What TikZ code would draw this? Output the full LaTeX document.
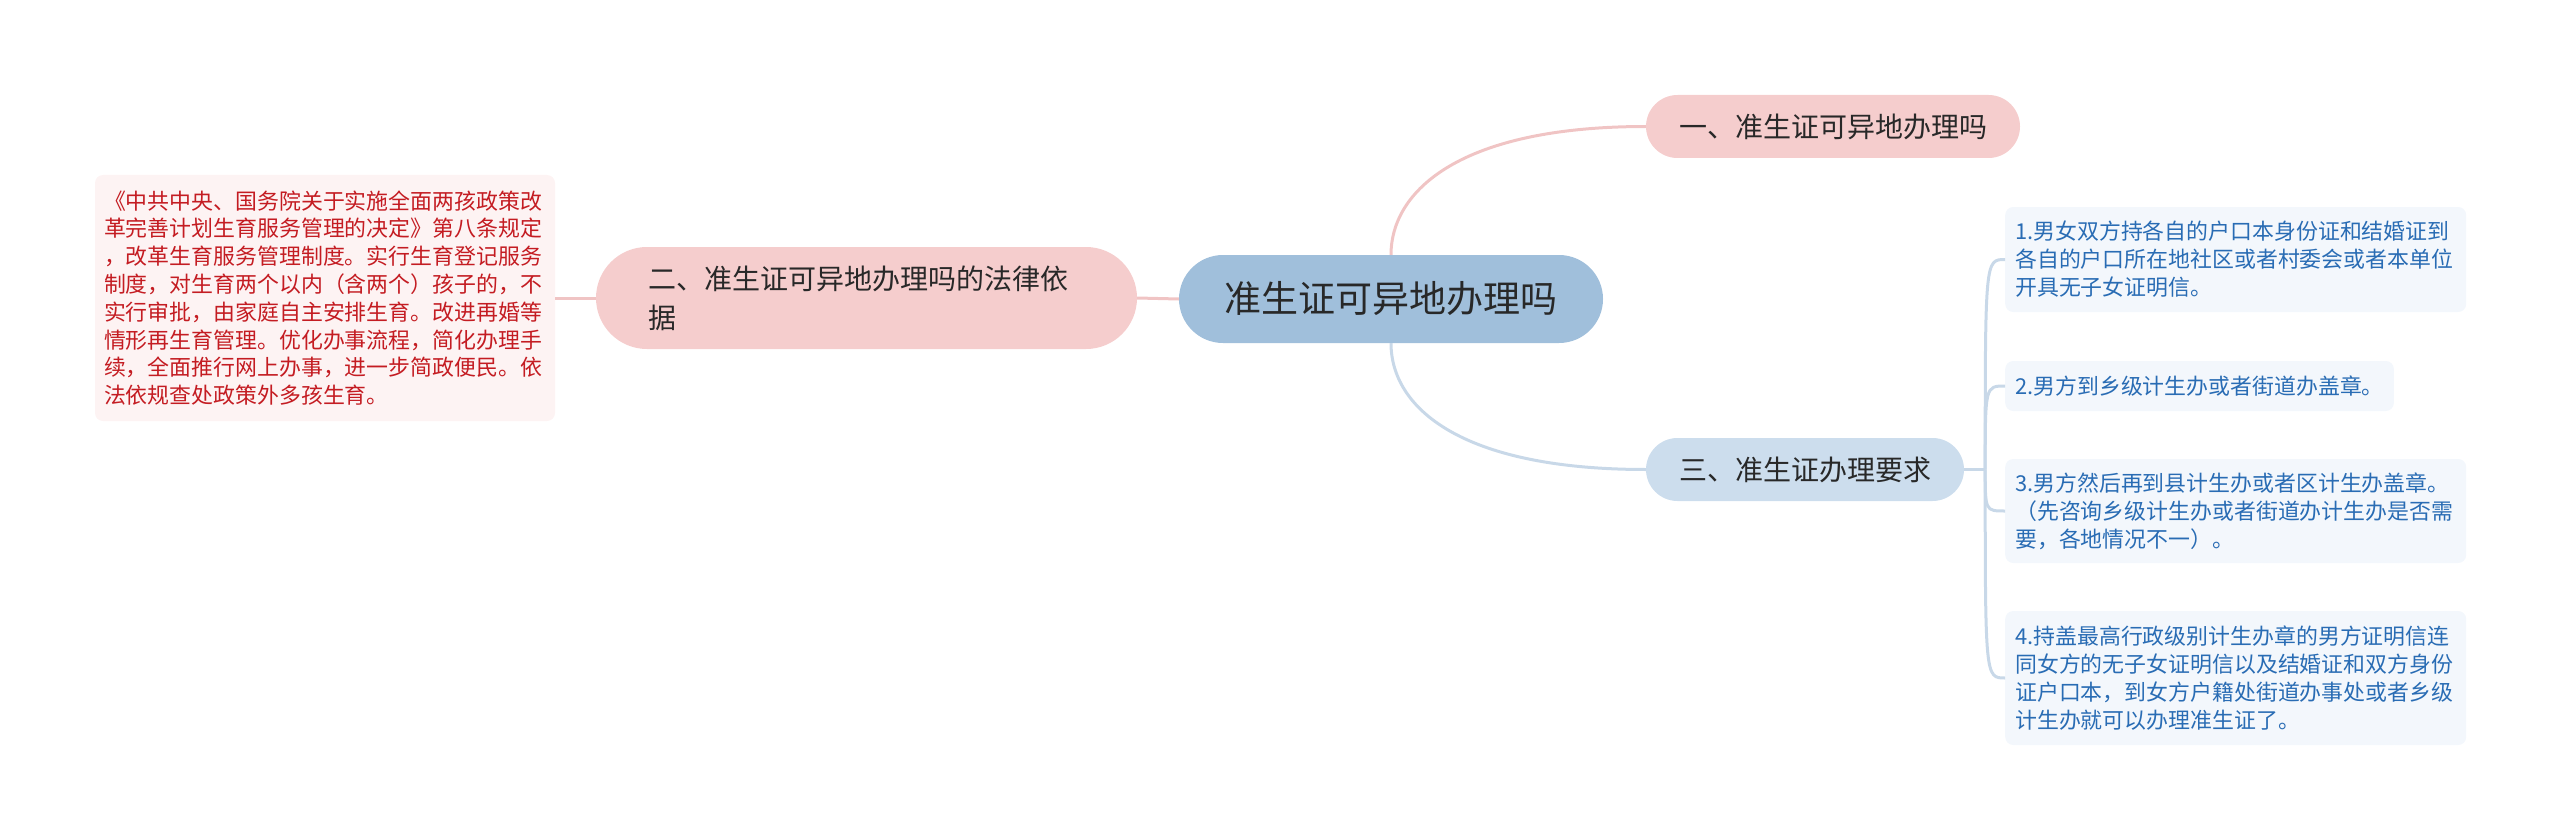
\documentclass[tikz,border=0pt]{standalone}
\usepackage{fontspec}
\setmainfont{Noto Sans CJK SC}
\definecolor{cMain}{RGB}{160,191,219}
\definecolor{cPink}{RGB}{245,205,205}
\definecolor{cBlueNode}{RGB}{204,221,237}
\definecolor{cLawFill}{RGB}{253,243,243}
\definecolor{cStepFill}{RGB}{243,247,252}
\definecolor{cRed}{RGB}{196,28,34}
\definecolor{cBlueText}{RGB}{41,108,180}
\definecolor{cPinkLine}{RGB}{240,196,196}
\definecolor{cBlueLine}{RGB}{200,216,232}
\definecolor{cDark}{RGB}{40,40,40}
\begin{document}
\begin{tikzpicture}[x=1pt,y=-1pt,
  mainnode/.style={fill=cMain, rounded corners=44pt, minimum width=424pt, minimum height=88pt,
    inner sep=0pt, text=cDark, font=\fontsize{37}{44}\selectfont},
  pinknode/.style={fill=cPink, text=cDark, inner sep=0pt, font=\fontsize{28}{39}\selectfont},
  bluenode/.style={fill=cBlueNode, text=cDark, inner sep=0pt, font=\fontsize{28}{39}\selectfont},
  lawbox/.style={fill=cLawFill, rounded corners=8pt, text=cRed, align=left, text width=442pt,
    inner xsep=9pt, inner ysep=0pt, minimum height=246pt, font=\fontsize{21.9}{27.8}\selectfont},
  stepbox/.style={fill=cStepFill, rounded corners=8pt, text=cBlueText, align=left, anchor=west,
    inner xsep=10pt, inner ysep=0pt, font=\fontsize{21.9}{28}\selectfont},
  pinkline/.style={draw=cPinkLine, line width=3pt},
  blueline/.style={draw=cBlueLine, line width=3pt}
]
\useasboundingbox (0,0) rectangle (2560,840);

% nodes
\node[mainnode] (main) at (1391,299) {准生证可异地办理吗};
\node[pinknode, rounded corners=31.5pt, minimum width=374pt, minimum height=63pt] (one) at (1833,126.5) {一、准生证可异地办理吗};
\node[pinknode, rounded corners=51pt, minimum width=541pt, minimum height=102pt, align=left,
  text width=437pt, inner xsep=52pt] (two) at (866.5,298) {二、准生证可异地办理吗的法律依\\据};
\node[bluenode, rounded corners=31.5pt, minimum width=318pt, minimum height=63pt] (three) at (1805,469.5) {三、准生证办理要求};

\node[lawbox] (law) at (325,298) {《中共中央、国务院关于实施全面两孩政策改\\革完善计划生育服务管理的决定》第八条规定\\，改革生育服务管理制度。实行生育登记服务\\制度，对生育两个以内（含两个）孩子的，不\\实行审批，由家庭自主安排生育。改进再婚等\\情形再生育管理。优化办事流程，简化办理手\\续，全面推行网上办事，进一步简政便民。依\\法依规查处政策外多孩生育。};

\node[stepbox, text width=441pt, minimum height=105pt] (s1) at (2005,259.5) {1.男女双方持各自的户口本身份证和结婚证到\\各自的户口所在地社区或者村委会或者本单位\\开具无子女证明信。};
\node[stepbox, minimum height=50pt] (s2) at (2005,386) {2.男方到乡级计生办或者街道办盖章。};
\node[stepbox, text width=441pt, minimum height=104pt] (s3) at (2005,511) {3.男方然后再到县计生办或者区计生办盖章。\\（先咨询乡级计生办或者街道办计生办是否需\\要，各地情况不一）。};
\node[stepbox, text width=441pt, minimum height=134pt] (s4) at (2005,678) {4.持盖最高行政级别计生办章的男方证明信连\\同女方的无子女证明信以及结婚证和双方身份\\证户口本，到女方户籍处街道办事处或者乡级\\计生办就可以办理准生证了。};

% connectors
\draw[pinkline] (main.west) -- (two.east);
\draw[pinkline] (two.west) -- (law.east);
\draw[pinkline] (main.north) .. controls +(0,-64) and +(-186,0) .. (one.west);
\draw[blueline] (main.south) .. controls +(0,64) and +(-186,0) .. (three.west);
\coordinate (hub) at ([xshift=21pt]three.east);
\draw[blueline] (three.east) -- (hub);
\foreach \b in {s1,s2,s3,s4}{
  \draw[blueline] (hub) .. controls (hub |- \b.west) and (hub |- \b.west) .. (\b.west);
}
\end{tikzpicture}
\end{document}
